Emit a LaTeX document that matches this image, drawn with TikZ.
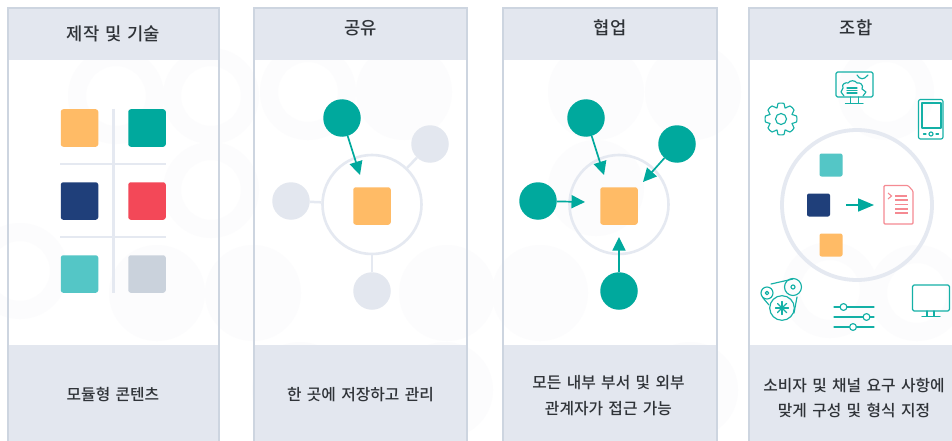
\documentclass[tikz,border=0pt]{standalone}
\usepackage{fontspec}
\setmainfont{Noto Sans CJK KR Medium}
\newfontfamily\capfont[WordSpace=1.12]{Noto Sans CJK KR Medium}
\newfontfamily\ttlfont[WordSpace=1.51]{Noto Sans CJK KR Medium}
\usetikzlibrary{arrows.meta}
\definecolor{panel}{HTML}{E3E7EF}
\definecolor{edge}{HTML}{CDD5E0}
\definecolor{lin}{HTML}{E5E9F1}
\definecolor{teal}{HTML}{00A99D}
\definecolor{lteal}{HTML}{54C6C6}
\definecolor{navy}{HTML}{1F3F7A}
\definecolor{red2}{HTML}{F34858}
\definecolor{orng}{HTML}{FFBB66}
\definecolor{gry}{HTML}{CAD2DC}
\definecolor{ink}{HTML}{2F3338}
\definecolor{pink}{HTML}{F58A92}
\definecolor{ghost}{HTML}{FCFCFD}
\definecolor{icon}{HTML}{14B0A6}
\tikzset{
 x=1pt,y=-1pt,
 sq/.style={rounded corners=2.5pt,minimum size=37.5pt,inner sep=0pt,line width=0pt},
 ssq/.style={rounded corners=2pt,minimum size=23pt,inner sep=0pt},
 dot/.style={circle,minimum size=37.5pt,inner sep=0pt},
 txt/.style={text=ink,font=\capfont\fontsize{15.8pt}{25.5pt}\selectfont,align=center},
 ttl/.style={text=ink,font=\ttlfont\fontsize{17.7pt}{20pt}\selectfont},
 ring/.style={circle,draw=lin,line width=2.6pt,inner sep=0pt},
 grid/.style={draw=lin,line width=2.5pt},
 link/.style={draw=lin,line width=2.5pt},
 arr/.style={draw=teal,line width=1.7pt,-{Triangle[length=13.5pt,width=13pt]}},
 ico/.style={draw=icon,line width=1.15pt,line join=round,line cap=round},
 frame/.style={draw=edge,line width=1.8pt}
}
\begin{document}
\begin{tikzpicture}
\useasboundingbox (0,0) rectangle (952,441);
\fill[white] (0,0) rectangle (952,441);
% faint background circles
\foreach \c in {{404,92},{596,92},{693,92},{157,293},{253,293},{447,293},{540,293},{596,188},{300,390},{445,390},{690,390}}
  \fill[ghost] (\c) circle (48);
\foreach \c in {{116,96},{211,96},{308,92},{20,271},{211,190},{886,92},{830,290},{917,293}}{
  \fill[ghost,even odd rule] (\c) circle (48) (\c) circle (30);
}
% panels
\foreach \l/\r in {8/219,254/467,503/717,749/960}{
 \fill[panel] (\l,8) rectangle (\r,60);
 \fill[panel] (\l,345) rectangle (\r,441);
 \draw[frame] (\l,441) -- (\l,8) -- (\r,8) -- (\r,441);
}
\node[ttl] (t1) at (113.5,33.5) {제작 및 기술};
\node[ttl] (t2) at (360.5,28) {공유};
\node[ttl] (t3) at (610,28) {협업};
\node[ttl] (t4) at (856,28) {조합};
\node[txt] (c1) at (113,395) {모듈형 콘텐츠};
\node[txt] (c2) at (360.5,395) {한 곳에 저장하고 관리};
\node[txt] (c3) at (608.5,395.5) {모든 내부 부서 및 외부\\관계자가 접근 가능};
\node[txt] (c4) at (854,398) {소비자 및 채널 요구 사항에\\맞게 구성 및 형식 지정};
% panel 1
\draw[grid] (113.5,109) -- (113.5,293);
\draw[grid] (60,164) -- (166,164);
\draw[grid] (60,237) -- (166,237);
\node[sq,fill=orng] (s1) at (79.5,128) {};
\node[sq,fill=teal] (s2) at (147,128) {};
\node[sq,fill=navy] (s3) at (79.5,201) {};
\node[sq,fill=red2] (s4) at (147,201) {};
\node[sq,fill=lteal] (s5) at (79.5,274) {};
\node[sq,fill=gry] (s6) at (147,274) {};
% panel 2
\node[ring,minimum size=99pt] (r2) at (372,204.5) {};
\node[dot,fill=teal] (b1) at (342,118) {};
\node[dot,fill=panel] (b2) at (430,144) {};
\node[dot,fill=panel] (b3) at (291,201) {};
\node[dot,fill=panel] (b4) at (372,291) {};
\node[sq,fill=orng] (bs) at (372,206) {};
\draw[link] (b2) -- (r2);
\draw[link] (b3) -- (r2);
\draw[link] (b4) -- (r2);
\coordinate (a2) at (360,175);
\draw[arr] (b1) -- (a2);
% panel 3
\node[ring,minimum size=99pt] (r3) at (619,204.5) {};
\node[dot,fill=teal] (d1) at (586,118) {};
\node[dot,fill=teal] (d2) at (677,144) {};
\node[dot,fill=teal] (d3) at (538,201) {};
\node[dot,fill=teal] (d4) at (619,291) {};
\node[sq,fill=orng] (ds) at (619,206) {};
\coordinate (e1) at (604,175);
\coordinate (e2) at (643,182);
\coordinate (e3) at (585,202);
\coordinate (e4) at (619,237);
\draw[arr] (d1) -- (e1);
\draw[arr] (d2) -- (e2);
\draw[arr] (d3) -- (e3);
\draw[arr] (d4) -- (e4);
% panel 4
\node[ring,minimum size=150pt,line width=3.8pt] (r4) at (857,205) {};
\node[ssq,fill=lteal] (f1) at (831,165) {};
\node[ssq,fill=navy] (f2) at (818.5,205) {};
\node[ssq,fill=orng] (f3) at (831,245) {};
\coordinate (g1) at (846,205);
\coordinate (g2) at (874,205);
\draw[arr,-{Triangle[length=16pt,width=13pt]}] (g1) -- (g2);
% document icon
\draw[pink,line width=1.1pt,rounded corners=1pt] (884,185.5) -- (908,185.5) -- (913,191) -- (913,224) -- (884,224) -- cycle;
\draw[pink,line width=1.1pt] (888,193) -- (891.5,196) -- (888,199);
\draw[pink,line width=1.1pt] (895,196) -- (907,196);
\foreach \y in {200,204.5,209,213} \draw[pink,line width=1.1pt] (895,\y) -- (907.5,\y);
% gear
\begin{scope}[ico,shift={(781,119)}]
 \draw (0,0) circle (5.5);
 \draw plot[smooth cycle,tension=.45] coordinates {(-3,-15.5)(3,-15.5)(4,-11)(9,-13)(13,-9)(11,-4.5)(15.5,-3)(15.5,3)(11,4.5)(13,9)(9,13)(4,11)(3,15.5)(-3,15.5)(-4,11)(-9,13)(-13,9)(-11,4.5)(-15.5,3)(-15.5,-3)(-11,-4.5)(-13,-9)(-9,-13)(-4,-11)};
\end{scope}
% monitor with gear
\begin{scope}[ico]
 \draw[rounded corners=1.5pt] (836,72) rectangle (873,97);
 \draw (850.5,97) -- (850.5,103) (858.5,97) -- (858.5,103) (845.5,103.5) -- (863,103.5);
 \draw (844,96) -- (841,92) -- (843,88) .. controls (841,84) and (846,82) .. (848,83) .. controls (850,80) and (855,80) .. (857,83) .. controls (860,82) and (864,85) .. (862,89) -- (866,92) -- (863,96);
 \draw (847,88) -- (857,88) (847,90.5) -- (857,90.5) (847,93) -- (857,93);
 \draw (857,75) .. controls (860,80) and (864,80) .. (868,75);
\end{scope}
% tablet
\begin{scope}[ico]
 \draw[rounded corners=2pt] (918.5,99.5) rectangle (943,139);
 \draw (922,103) rectangle (941,128);
 \draw (931,134) circle (2);
 \draw (923.5,134) -- (926,134) (936,134) -- (938.5,134);
\end{scope}
% belts
\begin{scope}[ico]
 \draw (767,293) circle (6); \draw (767,293) circle (1.8);
 \draw (793,287) circle (8.5); \draw (793,287) circle (2);
 \draw (782,308) circle (12.3);
 \draw (771,284) -- (793,279) (763,298) -- (769,305) (797,297) -- (794,313);
 \foreach \a in {0,45,90,135} \draw (782,308) ++(\a:6.5) -- ++(\a+180:13);
\end{scope}
% sliders
\begin{scope}[ico]
 \draw (834,307) -- (874,307) (834,317) -- (874,317) (834,327) -- (874,327);
 \draw[fill=white] (843.5,307) circle (3.4);
 \draw[fill=white] (866.5,317) circle (3.4);
 \draw[fill=white] (853,327) circle (3.4);
\end{scope}
% desktop
\begin{scope}[ico]
 \draw[rounded corners=1.5pt] (912.5,285) rectangle (949.5,311);
 \draw (927,311) -- (927,316) (934,311) -- (934,316) (922,316.5) -- (940,316.5);
\end{scope}
\end{tikzpicture}
\end{document}
